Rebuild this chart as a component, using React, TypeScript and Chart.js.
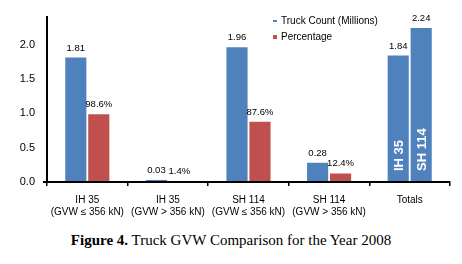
import React, { useEffect, useRef } from "react";
import { Chart, registerables } from "chart.js";

Chart.register(...registerables);

const categories: (string | string[])[] = [
  ["IH 35", "(GVW ≤ 356 kN)"],
  ["IH 35", "(GVW > 356 kN)"],
  ["SH 114", "(GVW ≤ 356 kN)"],
  ["SH 114", "(GVW > 356 kN)"],
  "Totals",
];
const truckCount = [1.81, 0.03, 1.96, 0.28];
const percentage = [98.6, 1.4, 87.6, 12.4];
const totals = [1.84, 2.24];
const totalNames = ["IH 35", "SH 114"];
const yTicks = [0, 0.5, 1.0, 1.5, 2.0];
const legendNames = ["Truck Count (Millions)", "Percentage"];
const caption = "Truck GVW Comparison for the Year 2008";

const BLUE = "#4F81BD";
const RED = "#C0504D";
const FONT = "'Liberation Sans', Arial, sans-serif";

const labelPlugin = {
  id: "barLabels",
  afterDatasetsDraw(chart: any) {
    const ctx = chart.ctx;
    ctx.save();
    chart.data.datasets.forEach((ds: any, di: number) => {
      const meta = chart.getDatasetMeta(di);
      meta.data.forEach((bar: any, i: number) => {
        let txt: string;
        if (i === 4) txt = totals[di].toFixed(2);
        else if (di === 0) txt = truckCount[i].toFixed(2);
        else txt = percentage[i].toFixed(1) + "%";
        ctx.font = `9.5px ${FONT}`;
        ctx.fillStyle = "#000";
        ctx.textAlign = "center";
        ctx.textBaseline = "alphabetic";
        ctx.fillText(txt, bar.x, bar.y - 7);
        if (i === 4) {
          ctx.save();
          ctx.translate(bar.x, bar.base - 10);
          ctx.rotate(-Math.PI / 2);
          ctx.font = `bold 13px ${FONT}`;
          ctx.fillStyle = "#fff";
          ctx.textAlign = "left";
          ctx.textBaseline = "middle";
          ctx.fillText(totalNames[di], 0, 1);
          ctx.restore();
        }
      });
    });
    ctx.restore();
  },
};

const legendPlugin = {
  id: "insideLegend",
  afterDraw(chart: any) {
    const ctx = chart.ctx;
    ctx.save();
    ctx.font = `10px ${FONT}`;
    ctx.textAlign = "left";
    ctx.textBaseline = "middle";
    const x0 = 273;
    const ys = [21, 37];
    const cols = [BLUE, RED];
    legendNames.forEach((name, i) => {
      ctx.fillStyle = cols[i];
      if (i === 0) ctx.fillRect(x0, ys[i] - 1, 4, 2);
      else ctx.fillRect(x0, ys[i] - 2, 4, 4);
      ctx.fillStyle = "#000";
      ctx.fillText(name, x0 + 8, ys[i]);
    });
    ctx.restore();
  },
};

export default function App() {
  const ref = useRef<HTMLCanvasElement>(null);
  useEffect(() => {
    if (!ref.current) return;
    const chart = new Chart(ref.current, {
      type: "bar",
      data: {
        labels: categories as any,
        datasets: [
          {
            label: legendNames[0],
            data: [...truckCount, totals[0]],
            backgroundColor: BLUE,
            categoryPercentage: 0.57,
            barPercentage: 0.92,
          },
          {
            label: legendNames[1],
            data: [...percentage.map((p) => p / 100), totals[1]],
            backgroundColor: [RED, RED, RED, RED, BLUE],
            categoryPercentage: 0.57,
            barPercentage: 0.92,
          },
        ],
      },
      options: {
        animation: false,
        responsive: false,
        devicePixelRatio: 1,
        layout: { padding: { top: 17, right: 12, left: 0, bottom: 0 } },
        plugins: {
          legend: { display: false },
          tooltip: { enabled: false },
        },
        scales: {
          x: {
            offset: true,
            grid: {
              display: true,
              offset: true,
              drawOnChartArea: false,
              drawTicks: true,
              tickLength: 4,
              color: "#000",
              lineWidth: 1.5,
            },
            border: { display: true, color: "#000", width: 2 },
            ticks: {
              color: "#000",
              font: { family: FONT, size: 10, lineHeight: 1.2 },
              padding: 8,
              maxRotation: 0,
              autoSkip: false,
            },
            afterFit(scale: any) {
              scale.height = 40;
            },
          },
          y: {
            min: 0,
            max: 2.4,
            grid: {
              display: true,
              drawOnChartArea: false,
              drawTicks: true,
              tickLength: 4,
              color: (c: any) => (c.tick && c.tick.value === 0 ? "#000" : "rgba(0,0,0,0)"),
              lineWidth: 2,
            },
            border: { display: true, color: "#000", width: 2 },
            afterBuildTicks(scale: any) {
              scale.ticks = yTicks.map((v) => ({ value: v }));
            },
            ticks: {
              color: "#000",
              font: { family: FONT, size: 11 },
              padding: 8,
              callback: (v: any) => Number(v).toFixed(1),
            },
            afterFit(scale: any) {
              scale.width = 47;
            },
          },
        },
      },
      plugins: [labelPlugin, legendPlugin],
    });
    return () => chart.destroy();
  }, []);

  return (
    <div
      style={{
        position: "absolute",
        left: 0,
        top: 0,
        width: 462,
        height: 264,
        background: "#fff",
      }}
    >
      <canvas ref={ref} width={462} height={222} style={{ display: "block" }} />
      <div
        style={{
          position: "absolute",
          top: 232,
          left: 0,
          width: 462,
          textAlign: "center",
          fontFamily: "'Liberation Serif', 'Times New Roman', serif",
          fontSize: 15,
          lineHeight: "17px",
          color: "#000",
        }}
      >
        <b>Figure 4.</b> {caption}
      </div>
    </div>
  );
}
